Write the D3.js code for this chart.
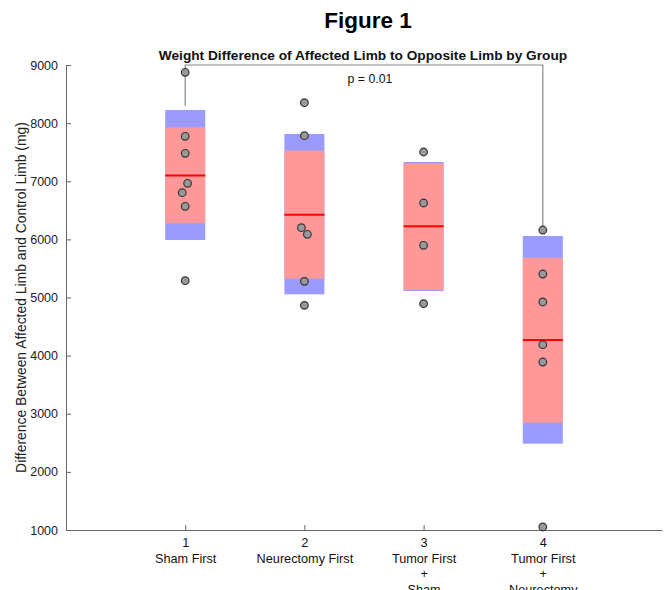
<!DOCTYPE html>
<html>
<head>
<meta charset="utf-8">
<script src="https://cdn.jsdelivr.net/npm/d3@7"></script>
<style>
  body { margin: 0; background: #fff; }
  text { font-family: "Liberation Sans", Arial, Helvetica, sans-serif; }
</style>
</head>
<body>
<svg id="vis"></svg>
<script>
// group labels (each entry is one line of the tick label)
const groups = [1, 2, 3, 4];
const groupLabels = [
  ["1", "Sham First"],
  ["2", "Neurectomy First"],
  ["3", "Tumor First", "+", "Sham"],
  ["4", "Tumor First", "+", "Neurectomy"]
];
const yTicks = [1000, 2000, 3000, 4000, 5000, 6000, 7000, 8000, 9000];

// summary stats per group: mean, 95% CI (pink), 1 SD (blue)
const means   = [7100, 6425, 6225, 4270];
const ciLow   = [6277, 5324, 5129, 2846];
const ciHigh  = [7928, 7526, 7308, 5685];
const sdLow   = [5989, 5055, 5112, 2485];
const sdHigh  = [8226, 7813, 7331, 6058];

// raw points per group and their horizontal jitter (x units)
const points = [
  [8874, 7773, 7481, 6965, 6803, 6569, 5289],
  [8351, 7784, 6201, 6087, 5278, 4865],
  [7503, 6626, 5898, 4894],
  [6161, 5404, 4923, 4188, 3890, 1052]
];
const jitter = [
  [0, 0, 0, 0.02, -0.025, 0, 0],
  [0, 0, -0.025, 0.025, 0, 0],
  [0, 0, 0, 0],
  [0, 0, 0, 0, 0, 0]
];

// significance bracket between group 1 and 4
const bracket = { from: 1, to: 4, top: 9000, fromEnd: 8300, toEnd: 6161, label: "p = 0.01" };

const width = 670, height = 590;
const margin = { left: 66, right: 8, top: 65, bottom: 60 };

const svg = d3.select("#vis").attr("width", width).attr("height", height);

const x = d3.scaleLinear().domain([0, 5]).range([margin.left, width - margin.right]);
const y = d3.scaleLinear().domain([1000, 9000]).range([height - margin.bottom, margin.top]);
const boxW = 40;

// titles
svg.append("text")
  .attr("x", 368).attr("y", 28)
  .attr("text-anchor", "middle")
  .attr("font-size", 22.5).attr("font-weight", "bold")
  .text("Figure 1");

svg.append("text")
  .attr("x", 363).attr("y", 60)
  .attr("text-anchor", "middle")
  .attr("font-size", 13.7).attr("font-weight", "bold")
  .attr("fill", "#111")
  .text("Weight Difference of Affected Limb to Opposite Limb by Group");

// boxes
const g = svg.append("g");
groups.forEach((d, i) => {
  const cx = x(d);
  g.append("rect")
    .attr("x", cx - boxW / 2).attr("width", boxW)
    .attr("y", y(sdHigh[i])).attr("height", y(sdLow[i]) - y(sdHigh[i]))
    .attr("fill", "#9a9aff");
  g.append("rect")
    .attr("x", cx - boxW / 2).attr("width", boxW)
    .attr("y", y(ciHigh[i])).attr("height", y(ciLow[i]) - y(ciHigh[i]))
    .attr("fill", "#ff9999");
  g.append("line")
    .attr("x1", cx - boxW / 2).attr("x2", cx + boxW / 2)
    .attr("y1", y(means[i])).attr("y2", y(means[i]))
    .attr("stroke", "#ff0000").attr("stroke-width", 2);
});

// bracket
svg.append("path")
  .attr("d", d3.line()([
    [x(bracket.from), y(bracket.fromEnd)],
    [x(bracket.from), y(bracket.top)],
    [x(bracket.to), y(bracket.top)],
    [x(bracket.to), y(bracket.toEnd)]
  ]))
  .attr("fill", "none").attr("stroke", "#888").attr("stroke-width", 1.2);

svg.append("text")
  .attr("x", 370).attr("y", 83)
  .attr("text-anchor", "middle")
  .attr("font-size", 12.3).attr("fill", "#111")
  .text(bracket.label);

// axes
const yAxis = d3.axisLeft(y).tickValues(yTicks).tickFormat(d3.format("d"))
  .tickSizeInner(-5).tickSizeOuter(0).tickPadding(8);
const ya = svg.append("g").attr("transform", `translate(${margin.left},0)`).call(yAxis);
ya.selectAll("text").attr("font-size", 12.5).attr("fill", "#222").attr("font-family", "Liberation Sans, Arial, sans-serif");
ya.selectAll("line, path").attr("stroke", "#666");

const xAxis = d3.axisBottom(x).tickValues(groups).tickSizeInner(-5).tickSizeOuter(0).tickFormat("");
const xa = svg.append("g").attr("transform", `translate(0,${height - margin.bottom})`).call(xAxis);
xa.selectAll("line, path").attr("stroke", "#666");
xa.selectAll(".tick").each(function(d, i) {
  const t = d3.select(this).append("text")
    .attr("text-anchor", "middle")
    .attr("font-size", 12.7).attr("fill", "#111")
    .attr("font-family", "Liberation Sans, Arial, sans-serif");
  groupLabels[i].forEach((line, k) => {
    t.append("tspan").attr("x", 0).attr("y", 17 + k * 15.5).text(line);
  });
});

svg.append("text")
  .attr("transform", `translate(26,${y(5000)}) rotate(-90)`)
  .attr("text-anchor", "middle")
  .attr("font-size", 13.9).attr("fill", "#222")
  .text("Difference Between Affected Limb and Control Limb (mg)");

// points
groups.forEach((d, i) => {
  svg.append("g").selectAll("circle")
    .data(points[i])
    .enter()
    .append("circle")
    .attr("cx", (v, k) => x(d + jitter[i][k]))
    .attr("cy", v => y(v))
    .attr("r", 3.8)
    .attr("fill", "#999")
    .attr("stroke", "#333")
    .attr("stroke-width", 1.2);
});
</script>
</body>
</html>
